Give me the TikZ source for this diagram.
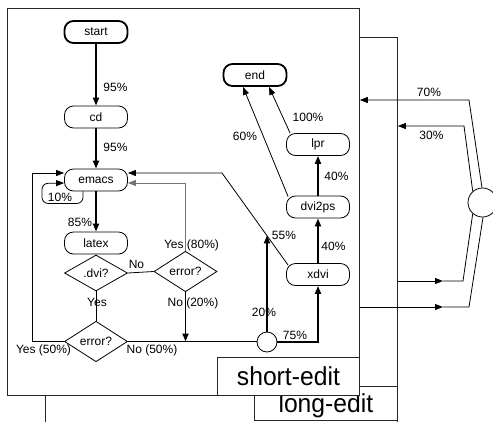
\documentclass[tikz,border=0pt]{standalone}
\usepackage{fontspec}
\setmainfont{Liberation Sans}
\usepackage{graphicx}
\usetikzlibrary{arrows.meta,shapes.geometric,calc}
\begin{document}
\begin{tikzpicture}[x=1pt,y=-1pt,
  every node/.style={font=\fontsize{12}{14}\selectfont, inner sep=0pt},
  term/.style={draw, line width=1.8pt, rounded corners=9pt, minimum width=63pt, minimum height=22pt},
  proc/.style={draw, line width=0.8pt, rounded corners=9pt, minimum width=63pt, minimum height=22pt},
  dec/.style={draw, line width=0.8pt, diamond, minimum width=63pt, minimum height=36pt},
  joint/.style={draw, circle, line width=0.8pt, fill=white, minimum size=20pt},
  frame/.style={draw=black!85, fill=white, line width=0.8pt},
  lab/.style={font=\fontsize{12}{14}\selectfont},
  bigl/.style={font=\fontsize{26}{30}\selectfont, text height=19pt, text depth=0pt},
  tip/.style={-{Triangle[length=8pt,width=6pt]}},
  heavy/.style={line width=1.8pt, tip},
  light/.style={line width=0.8pt, tip},
  plain/.style={line width=0.8pt},
]
\clip (0,0) rectangle (493,421);
% frames
\node[frame, minimum width=352pt, minimum height=420pt, anchor=north west] (lefr) at (45,37) {};
\node[frame, minimum width=143pt, minimum height=34pt, anchor=north west, bigl] (lelab) at (254,386) {\scalebox{0.95}[1]{long-edit}};
\node[frame, minimum width=352pt, minimum height=387pt, anchor=north west] (sefr) at (7,8) {};
\node[frame, minimum width=142pt, minimum height=38pt, anchor=south east, bigl] (selab) at (sefr.south east) {\scalebox{0.95}[1]{short-edit}};

% flow nodes
\node[term] (start) at (96,32) {start};
\node[proc] (cd) at (96,117) {cd};
\node[proc] (emacs) at (96,180) {emacs};
\node[proc] (latex) at (96,243) {latex};
\node[dec] (dvi) at (96,273) {.dvi?};
\node[dec] (err1) at (185.5,271.5) {error?};
\node[dec, minimum height=37pt] (err2) at (96,341.5) {error?};
\node[proc] (xdvi) at (318,274.5) {xdvi};
\node[proc] (dvips) at (318,207) {dvi2ps};
\node[proc] (lpr) at (318,144.5) {lpr};
\node[term] (end) at (255,75) {end};
\node[joint, minimum size=29pt] (big) at (482.5,202.5) {};

% helper coordinates
\coordinate (s55) at ($(xdvi.north west)+(2,2)$);
\coordinate (bend) at (222,173);
\path (s55) -- (bend) coordinate[pos=0.323] (hit);

% connectors
\draw[heavy] (start) -- (cd);
\draw[heavy] (cd) -- (emacs);
\draw[heavy] (emacs) -- (latex);
\draw[light, rounded corners=6pt] ([xshift=-13pt]emacs.south) -- ++(0,12) -| ++(-41,-20) -- ([yshift=-3pt]emacs.west);
\draw[light, draw=black!55] (err1.north) |- ([yshift=-3pt]emacs.east);
\draw[plain] (dvi.east) -- (err1.west);
\draw[plain] (dvi.south) -- (err2.north);
\draw[light] (err2.west) -- ++(-32,0) |- ([yshift=7pt]emacs.west);
\draw[heavy] (err1.south) -- (err1.south |- err2.east);
\draw[plain] (err2.east) -- (err2.east -| xdvi.south) coordinate (r75);
\node[joint] (j) at (267,342) {};
\draw[heavy] (j.east) -| (xdvi.south);
\draw[heavy] (j.north) -- (j.north |- hit);
\draw[light] (s55) -- (bend) -- ([yshift=7pt]emacs.east);
\draw[heavy] (xdvi) -- (dvips);
\draw[heavy] (dvips) -- (lpr);
\draw[light] ($(lpr.north west)+(4,0)$) -- ($(end.south)+(14,0)$);
\draw[light] ($(dvips.north west)+(2,1)$) -- ($(end.south)+(-12,0)$);

% loop to the circle on the right
\draw[light] (big.92) -- (469,100) -- (sefr.east |- 0,100);
\draw[light] (big.131) -- (464,126) -- (lefr.east |- 0,126);
\draw[light] (lefr.east |- 0,281) -- (443,281) coordinate (m1);
\draw[plain] (m1) -- (463,281) -- (big.229);
\draw[light] (sefr.east |- 0,307) -- (443,307) coordinate (m2);
\draw[plain] (m2) -- (469,307) -- (big.272);

% labels
\node[lab] (l1) at (115.5,87) {95\%};
\node[lab] (l2) at (115.5,147) {95\%};
\node[lab] (l3) at (80,222) {85\%};
\node[lab] (l4) at (60,197) {10\%};
\node[lab] (l5) at (191.5,245) {Yes (80\%)};
\node[lab] (l6) at (136.5,264) {No};
\node[lab] (l7) at (97,302) {Yes};
\node[lab] (l8) at (193,303) {No (20\%)};
\node[lab] (l9) at (43.5,350) {Yes (50\%)};
\node[lab] (l10) at (152,350) {No (50\%)};
\node[lab] (l11) at (264,312) {20\%};
\node[lab] (l12) at (295,335) {75\%};
\node[lab] (l13) at (284,235) {55\%};
\node[lab] (l14) at (333.5,246) {40\%};
\node[lab] (l15) at (336.5,176) {40\%};
\node[lab] (l16) at (308,117) {100\%};
\node[lab] (l17) at (245,136) {60\%};
\node[lab] (l18) at (429,92) {70\%};
\node[lab] (l19) at (431.5,135) {30\%};
\end{tikzpicture}
\end{document}
